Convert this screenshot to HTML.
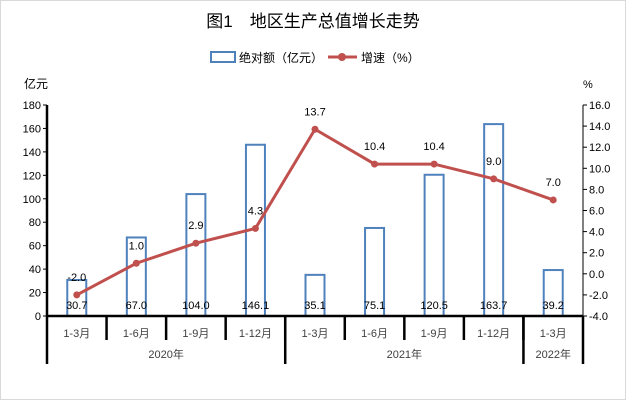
<!DOCTYPE html>
<html><head><meta charset="utf-8"><style>
body{margin:0;background:#fff;}
svg{display:block;font-family:"Liberation Sans","Noto Sans CJK SC",sans-serif;}
</style></head><body>
<svg id="c" width="626" height="400">
<rect x="0.5" y="0.5" width="625" height="399" fill="#fff" stroke="#d9d9d9"/>
<text x="313" y="27" text-anchor="middle" font-size="17" fill="#000">图1　地区生产总值增长走势</text>
<g>
<rect x="211" y="52" width="24" height="10" fill="none" stroke="#4f81bd" stroke-width="2"/>
<text x="239" y="62" font-size="12">绝对额（亿元）</text>
<line x1="328" y1="57" x2="357" y2="57" stroke="#c0504d" stroke-width="3"/>
<circle cx="342" cy="57" r="4" fill="#c0504d"/>
<text x="361" y="62" font-size="12">增速（%）</text>
</g>
<text x="24" y="88" font-size="12">亿元</text>
<text x="583" y="88" font-size="11">%</text>
<g id="g"></g>
</svg>
<script>
const categories=["1-3月","1-6月","1-9月","1-12月","1-3月","1-6月","1-9月","1-12月","1-3月"];
const years=["2020年","2021年","2022年"];
const yearSpans=[4,4,1];
const barValues=[30.7,67.0,104.0,146.1,35.1,75.1,120.5,163.7,39.2];
const growthValues=[-2.0,1.0,2.9,4.3,13.7,10.4,10.4,9.0,7.0];
const leftTicks=[0,20,40,60,80,100,120,140,160,180];
const rightTicks=[-4,-2,0,2,4,6,8,10,12,14,16];
const NS="http://www.w3.org/2000/svg";
const g=document.getElementById('g');
const X0=47,X1=583,YB=316,YT=105;
const bw=(X1-X0)/categories.length;
function xc(i){return X0+bw*(i+0.5);}
function yl(v){return YB-(v-0)/(180-0)*(YB-YT);}
function yr(v){return YB-(v+4)/(20)*(YB-YT);}
function el(t,a,txt){const e=document.createElementNS(NS,t);for(const k in a)e.setAttribute(k,a[k]);if(txt!==undefined)e.textContent=txt;g.appendChild(e);return e;}
leftTicks.forEach(v=>{
 const t=el('text',{x:X0-6,y:yl(v)+4,'text-anchor':'end','font-size':11},v);
 
 
 const l=el('line',{x1:X0-4,x2:X0,y1:yl(v),y2:yl(v),stroke:'#000'});
 
 
});
rightTicks.forEach(v=>{
 const t=el('text',{x:X1+6,y:yr(v)+4,'font-size':11},v.toFixed(1));
 
 
 const l=el('line',{x1:X1,x2:X1+4,y1:yr(v),y2:yr(v),stroke:'#000'});
 
 
});
barValues.forEach((v,i)=>{
 const r=el('rect',{x:xc(i)-9.5,y:yl(v),width:19,height:YB-yl(v),fill:'none',stroke:'#4f81bd','stroke-width':2});
 
 
 const t=el('text',{x:xc(i),y:YB-7,'text-anchor':'middle','font-size':11},v.toFixed(1));
 
 
});
const pl=el('polyline',{points:growthValues.map((v,i)=>xc(i)+','+yr(v)).join(' '),fill:'none',stroke:'#c0504d','stroke-width':3});


growthValues.forEach((v,i)=>{
 const c=el('circle',{cx:xc(i),cy:yr(v),r:3.5,fill:'#c0504d'});
 
 
 const t=el('text',{x:xc(i),y:yr(v)-14,'text-anchor':'middle','font-size':11},v.toFixed(1));
 
 
});
const ax=el('line',{x1:X0,x2:X0,y1:YT,y2:YB,stroke:'#000','stroke-width':2.5});


const ar=el('line',{x1:X1,x2:X1,y1:YT,y2:YB,stroke:'#000','stroke-width':1});


const xa=el('line',{x1:X0,x2:X1,y1:YB,y2:YB,stroke:'#000','stroke-width':2.5});


categories.forEach((c,i)=>{
 const t=el('text',{x:xc(i),y:337,'text-anchor':'middle','font-size':11,fill:'#404040'},c);
 
 
 if(i>0){const l=el('line',{x1:X0+bw*i,x2:X0+bw*i,y1:YB,y2:340,stroke:'#000','stroke-width':2.5});
 
 }
});
let s=0;
[0].concat(yearSpans).forEach(()=>{});
let bounds=[0];yearSpans.forEach(n=>{s+=n;bounds.push(s);});
bounds.forEach(b=>{const l=el('line',{x1:X0+bw*b,x2:X0+bw*b,y1:YB,y2:364,stroke:'#000','stroke-width':2.5});
 
 });
years.forEach((y,i)=>{
 const t=el('text',{x:X0+bw*(bounds[i]+bounds[i+1])/2,y:358,'text-anchor':'middle','font-size':11,fill:'#404040'},y);
 
 
});
</script>
</body></html>
